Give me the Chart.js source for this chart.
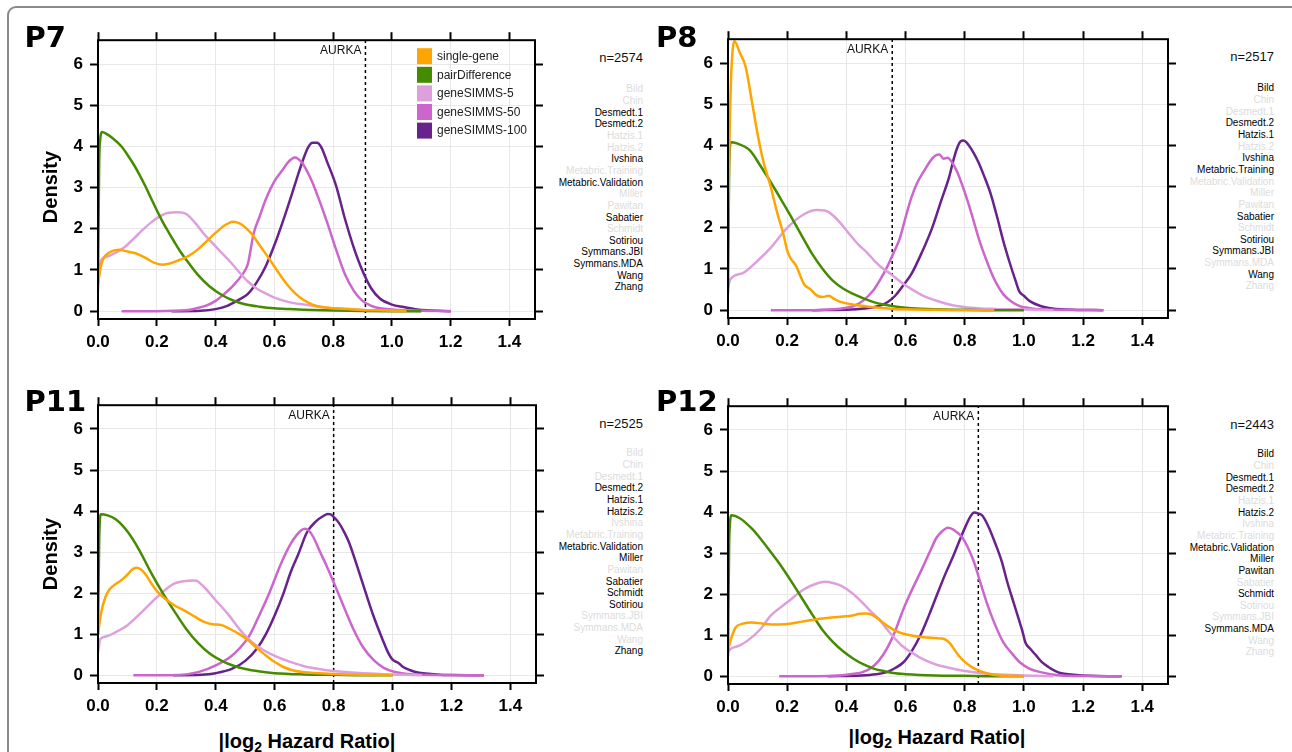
<!DOCTYPE html>
<html><head><meta charset="utf-8">
<script src="https://cdn.jsdelivr.net/npm/chart.js@4.4.1/dist/chart.umd.min.js"></script>
<style>
html,body{margin:0;padding:0;background:#fff}
body{width:1292px;height:752px;overflow:hidden;position:relative;font-family:"Liberation Sans",Arial,sans-serif}
.frame{position:absolute;left:7px;top:6px;width:1320px;height:800px;border:2px solid #8a8a8a;border-radius:9px}
canvas{position:absolute}
.ptitle{position:absolute;font:bold 29px/29px "DejaVu Sans",sans-serif;color:#000;white-space:nowrap}
.ylab{position:absolute;width:120px;text-align:center;font:bold 20px/20px "Liberation Sans",Arial,sans-serif;transform:rotate(-90deg);color:#000}
.xlab{position:absolute;width:300px;text-align:center;font:bold 20px/20px "Liberation Sans",Arial,sans-serif;color:#000;white-space:nowrap}
.xlab sub{font-size:14px;line-height:0;vertical-align:-4px}
.nlab{position:absolute;text-align:right;font:13px/13px "Liberation Sans",Arial,sans-serif;color:#111;white-space:nowrap}
.names{position:absolute;text-align:right;font:10px/11.65px "Liberation Sans",Arial,sans-serif;white-space:nowrap}
</style>
</head><body>
<div class="frame"></div>
<script>
// ---------------- data ----------------
const xTickValues = [0, 0.2, 0.4, 0.6, 0.8, 1.0, 1.2, 1.4];
const yTickValues = [0, 1, 2, 3, 4, 5, 6];
const xRange = [0, 1.487];
const yRange = [-0.19, 6.58];

const seriesNames = ["single-gene", "pairDifference", "geneSIMMS-5", "geneSIMMS-50", "geneSIMMS-100"];
const panelTitles = ["P7", "P8", "P11", "P12"];
const panelN = [2574, 2517, 2525, 2443];
const aurkaX = [0.910, 0.555, 0.800, 0.846];
const studyNames = ["Bild","Chin","Desmedt.1","Desmedt.2","Hatzis.1","Hatzis.2","Ivshina","Metabric.Training","Metabric.Validation","Miller","Pawitan","Sabatier","Schmidt","Sotiriou","Symmans.JBI","Symmans.MDA","Wang","Zhang"];
const P7_studies = ["Desmedt.1","Desmedt.2","Ivshina","Metabric.Validation","Sabatier","Sotiriou","Symmans.JBI","Symmans.MDA","Wang","Zhang"];
const P8_studies = ["Bild","Desmedt.2","Hatzis.1","Ivshina","Metabric.Training","Sabatier","Sotiriou","Symmans.JBI","Wang"];
const P11_studies = ["Desmedt.2","Hatzis.1","Hatzis.2","Metabric.Validation","Miller","Sabatier","Schmidt","Sotiriou","Zhang"];
const P12_studies = ["Bild","Desmedt.1","Desmedt.2","Hatzis.2","Metabric.Validation","Miller","Pawitan","Schmidt","Symmans.MDA"];

// P7 densities  [x, density]
const P7_singleGene = [[0,0.68],[0.01,1.1],[0.02,1.3],[0.04,1.43],[0.07,1.49],[0.1,1.45],[0.13,1.4],[0.16,1.3],[0.19,1.18],[0.22,1.13],[0.25,1.17],[0.28,1.25],[0.31,1.35],[0.34,1.5],[0.37,1.7],[0.4,1.9],[0.43,2.08],[0.445,2.14],[0.46,2.17],[0.475,2.15],[0.49,2.1],[0.52,1.9],[0.55,1.6],[0.58,1.3],[0.61,0.98],[0.64,0.68],[0.67,0.44],[0.7,0.27],[0.73,0.16],[0.76,0.1],[0.8,0.07],[0.85,0.05],[0.9,0.03],[0.95,0.02],[1.0,0.01],[1.05,0]];
const P7_pairDifference = [[0,0.7],[0.004,3.6],[0.008,4.2],[0.013,4.35],[0.03,4.3],[0.05,4.2],[0.08,4.0],[0.1,3.8],[0.12,3.58],[0.14,3.33],[0.16,3.05],[0.18,2.75],[0.2,2.45],[0.22,2.17],[0.24,1.92],[0.26,1.68],[0.28,1.45],[0.3,1.25],[0.34,0.88],[0.38,0.6],[0.42,0.4],[0.46,0.26],[0.5,0.17],[0.55,0.11],[0.6,0.07],[0.65,0.05],[0.7,0.035],[0.8,0.015],[0.9,0.005],[1.0,0],[1.1,0]];
const P7_geneSIMMS5 = [[0,0.5],[0.005,1.0],[0.012,1.25],[0.03,1.32],[0.06,1.42],[0.09,1.55],[0.12,1.75],[0.15,1.96],[0.18,2.15],[0.21,2.3],[0.24,2.39],[0.27,2.4],[0.3,2.36],[0.33,2.15],[0.36,1.88],[0.39,1.65],[0.42,1.42],[0.45,1.2],[0.48,0.95],[0.51,0.72],[0.54,0.55],[0.57,0.43],[0.6,0.33],[0.65,0.22],[0.7,0.16],[0.75,0.11],[0.8,0.07],[0.85,0.05],[0.9,0.03],[1.0,0.01],[1.1,0]];
const P7_geneSIMMS50 = [[0.08,0],[0.2,0],[0.3,0.02],[0.34,0.08],[0.37,0.14],[0.4,0.25],[0.43,0.42],[0.46,0.62],[0.49,0.88],[0.51,1.15],[0.53,1.9],[0.55,2.3],[0.57,2.7],[0.6,3.15],[0.63,3.45],[0.645,3.6],[0.66,3.7],[0.67,3.73],[0.68,3.7],[0.695,3.6],[0.71,3.42],[0.73,3.12],[0.75,2.75],[0.78,2.15],[0.81,1.5],[0.84,0.9],[0.87,0.5],[0.9,0.25],[0.93,0.13],[0.96,0.07],[1.0,0.04],[1.05,0.02],[1.1,0.01],[1.2,0]];
const P7_geneSIMMS100 = [[0.25,0],[0.35,0.01],[0.4,0.05],[0.44,0.13],[0.48,0.28],[0.51,0.42],[0.54,0.7],[0.57,1.08],[0.6,1.6],[0.63,2.2],[0.66,2.85],[0.68,3.3],[0.7,3.72],[0.715,3.98],[0.73,4.09],[0.745,4.09],[0.76,3.98],[0.78,3.62],[0.81,3.05],[0.84,2.25],[0.87,1.55],[0.9,0.98],[0.93,0.55],[0.96,0.3],[1.0,0.16],[1.04,0.1],[1.08,0.05],[1.12,0.02],[1.2,0]];

// P8
const P8_singleGene = [[0,2.0],[0.006,4.5],[0.012,5.9],[0.022,6.53],[0.04,6.25],[0.06,5.9],[0.08,5.1],[0.1,4.28],[0.12,3.6],[0.145,2.98],[0.165,2.4],[0.187,1.85],[0.2,1.45],[0.21,1.28],[0.23,1.08],[0.257,0.63],[0.28,0.5],[0.3,0.36],[0.32,0.32],[0.34,0.35],[0.36,0.27],[0.38,0.2],[0.42,0.14],[0.46,0.1],[0.5,0.065],[0.56,0.03],[0.6,0.02],[0.7,0.01],[0.8,0],[0.9,0]];
const P8_pairDifference = [[0,0.4],[0.004,3.5],[0.01,4.08],[0.03,4.05],[0.074,3.88],[0.11,3.5],[0.145,3.1],[0.18,2.68],[0.215,2.25],[0.25,1.8],[0.285,1.36],[0.32,1.0],[0.355,0.71],[0.39,0.52],[0.425,0.39],[0.46,0.28],[0.495,0.19],[0.53,0.13],[0.565,0.09],[0.6,0.06],[0.65,0.035],[0.7,0.02],[0.8,0.01],[0.9,0],[1.0,0]];
const P8_geneSIMMS5 = [[0,0.55],[0.008,0.75],[0.05,0.9],[0.1,1.2],[0.145,1.52],[0.2,2.0],[0.257,2.33],[0.3,2.43],[0.327,2.42],[0.355,2.3],[0.383,2.09],[0.41,1.85],[0.44,1.6],[0.47,1.4],[0.495,1.2],[0.52,1.03],[0.55,0.88],[0.585,0.68],[0.62,0.51],[0.66,0.35],[0.705,0.23],[0.76,0.12],[0.82,0.06],[0.9,0.03],[0.99,0.02],[1.1,0]];
const P8_geneSIMMS50 = [[0.145,0],[0.3,0],[0.36,0.02],[0.4,0.06],[0.425,0.1],[0.46,0.25],[0.49,0.47],[0.515,0.75],[0.537,1.04],[0.56,1.4],[0.58,1.73],[0.6,2.25],[0.62,2.74],[0.64,3.1],[0.663,3.39],[0.69,3.68],[0.705,3.77],[0.715,3.78],[0.728,3.68],[0.742,3.7],[0.758,3.58],[0.775,3.35],[0.79,3.07],[0.81,2.65],[0.83,2.17],[0.85,1.68],[0.874,1.2],[0.9,0.75],[0.93,0.39],[0.96,0.2],[0.986,0.1],[1.02,0.05],[1.056,0.02],[1.1,0.01],[1.27,0]];
const P8_geneSIMMS100 = [[0.285,0],[0.4,0.01],[0.46,0.04],[0.51,0.1],[0.54,0.2],[0.565,0.35],[0.59,0.58],[0.62,0.88],[0.655,1.4],[0.69,2.0],[0.72,2.65],[0.748,3.25],[0.762,3.65],[0.775,3.95],[0.786,4.1],[0.795,4.12],[0.805,4.08],[0.818,3.96],[0.83,3.82],[0.846,3.6],[0.866,3.25],[0.888,2.82],[0.91,2.25],[0.93,1.69],[0.95,1.2],[0.972,0.71],[0.985,0.45],[1.0,0.35],[1.02,0.22],[1.056,0.1],[1.09,0.05],[1.126,0.02],[1.2,0.005],[1.266,0]];

// P11
const P11_singleGene = [[0,1.0],[0.01,1.5],[0.025,1.9],[0.04,2.1],[0.06,2.22],[0.08,2.32],[0.1,2.45],[0.115,2.57],[0.13,2.62],[0.145,2.58],[0.16,2.47],[0.18,2.25],[0.2,2.05],[0.23,1.85],[0.26,1.7],[0.3,1.55],[0.33,1.42],[0.36,1.3],[0.39,1.24],[0.42,1.22],[0.45,1.12],[0.48,1.0],[0.51,0.85],[0.54,0.66],[0.57,0.48],[0.6,0.32],[0.63,0.2],[0.66,0.12],[0.7,0.07],[0.75,0.05],[0.8,0.03],[0.9,0.01],[1.0,0]];
const P11_pairDifference = [[0,1.0],[0.004,3.3],[0.01,3.92],[0.03,3.9],[0.06,3.8],[0.1,3.5],[0.14,3.05],[0.18,2.5],[0.22,2.0],[0.26,1.55],[0.3,1.12],[0.34,0.78],[0.38,0.52],[0.42,0.35],[0.46,0.23],[0.5,0.15],[0.55,0.09],[0.6,0.05],[0.7,0.02],[0.8,0.01],[0.9,0],[1.0,0]];
const P11_geneSIMMS5 = [[0,0.55],[0.008,0.88],[0.03,0.95],[0.06,1.05],[0.1,1.22],[0.15,1.55],[0.2,1.9],[0.258,2.23],[0.29,2.29],[0.33,2.31],[0.36,2.15],[0.4,1.82],[0.44,1.5],[0.485,1.08],[0.52,0.82],[0.56,0.62],[0.6,0.47],[0.65,0.33],[0.7,0.22],[0.75,0.15],[0.8,0.1],[0.9,0.05],[1.0,0.02],[1.1,0]];
const P11_geneSIMMS50 = [[0.12,0],[0.25,0],[0.3,0.02],[0.343,0.08],[0.4,0.24],[0.45,0.45],[0.48,0.65],[0.513,0.95],[0.55,1.5],[0.583,2.03],[0.62,2.7],[0.654,3.2],[0.675,3.42],[0.69,3.53],[0.703,3.57],[0.715,3.53],[0.73,3.38],[0.753,3.02],[0.775,2.68],[0.795,2.35],[0.83,1.75],[0.866,1.14],[0.9,0.68],[0.937,0.36],[0.97,0.18],[1.008,0.08],[1.05,0.03],[1.1,0.01],[1.31,0]];
const P11_geneSIMMS100 = [[0.255,0],[0.35,0.01],[0.4,0.05],[0.456,0.16],[0.5,0.35],[0.54,0.65],[0.57,1.0],[0.6,1.46],[0.63,2.0],[0.654,2.51],[0.68,2.95],[0.71,3.49],[0.74,3.75],[0.765,3.88],[0.78,3.93],[0.79,3.92],[0.8,3.86],[0.816,3.73],[0.835,3.5],[0.852,3.24],[0.88,2.65],[0.908,2.03],[0.935,1.45],[0.965,0.89],[0.985,0.55],[1.0,0.38],[1.02,0.3],[1.036,0.2],[1.06,0.12],[1.078,0.08],[1.15,0.02],[1.2,0.005],[1.31,0]];

// P12
const P12_singleGene = [[0,0.65],[0.01,0.9],[0.025,1.18],[0.05,1.28],[0.08,1.31],[0.12,1.28],[0.16,1.26],[0.2,1.27],[0.25,1.33],[0.3,1.39],[0.35,1.43],[0.4,1.46],[0.42,1.48],[0.445,1.52],[0.467,1.53],[0.485,1.5],[0.5,1.44],[0.52,1.33],[0.54,1.22],[0.565,1.11],[0.59,1.04],[0.62,0.99],[0.66,0.95],[0.7,0.93],[0.72,0.92],[0.735,0.89],[0.75,0.8],[0.765,0.65],[0.78,0.5],[0.8,0.35],[0.82,0.24],[0.846,0.14],[0.88,0.06],[0.916,0.02],[0.96,0.01],[1.0,0]];
const P12_pairDifference = [[0,0.5],[0.004,3.3],[0.012,3.92],[0.04,3.85],[0.08,3.6],[0.11,3.35],[0.145,3.02],[0.18,2.68],[0.215,2.3],[0.25,1.9],[0.285,1.5],[0.32,1.12],[0.355,0.83],[0.39,0.6],[0.425,0.42],[0.46,0.28],[0.495,0.18],[0.53,0.12],[0.565,0.07],[0.6,0.05],[0.7,0.02],[0.8,0.01],[0.9,0],[1.0,0]];
const P12_geneSIMMS5 = [[0,0.6],[0.01,0.67],[0.04,0.75],[0.074,0.91],[0.11,1.15],[0.145,1.48],[0.2,1.8],[0.257,2.12],[0.3,2.26],[0.327,2.3],[0.355,2.27],[0.383,2.2],[0.42,2.02],[0.453,1.8],[0.48,1.6],[0.51,1.39],[0.54,1.12],[0.565,0.91],[0.59,0.73],[0.62,0.58],[0.66,0.41],[0.705,0.28],[0.75,0.2],[0.79,0.14],[0.85,0.08],[0.9,0.05],[1.0,0.02],[1.1,0]];
const P12_geneSIMMS50 = [[0.173,0],[0.3,0],[0.38,0.02],[0.425,0.06],[0.455,0.1],[0.48,0.18],[0.51,0.38],[0.537,0.67],[0.565,1.1],[0.593,1.64],[0.62,2.08],[0.65,2.53],[0.68,3.0],[0.705,3.38],[0.725,3.54],[0.743,3.62],[0.76,3.58],[0.775,3.5],[0.79,3.4],[0.81,3.15],[0.832,2.77],[0.85,2.35],[0.874,1.8],[0.9,1.3],[0.93,0.83],[0.96,0.55],[0.986,0.34],[1.02,0.18],[1.056,0.1],[1.09,0.05],[1.126,0.02],[1.2,0.005],[1.33,0]];
const P12_geneSIMMS100 = [[0.337,0],[0.45,0.02],[0.5,0.05],[0.537,0.1],[0.565,0.2],[0.593,0.34],[0.62,0.6],[0.65,0.99],[0.68,1.5],[0.705,1.96],[0.735,2.5],[0.762,2.94],[0.785,3.35],[0.804,3.67],[0.82,3.9],[0.832,3.99],[0.845,3.97],[0.86,3.91],[0.88,3.65],[0.902,3.26],[0.925,2.8],[0.944,2.29],[0.965,1.8],[0.986,1.31],[0.995,1.1],[1.005,0.82],[1.02,0.68],[1.042,0.5],[1.06,0.35],[1.084,0.22],[1.105,0.13],[1.126,0.07],[1.16,0.04],[1.197,0.02],[1.25,0.005],[1.33,0]];

// ---------------- styles / layout ----------------
const seriesColors = ["#FFA500", "#458B00", "#DDA0DD", "#CC66CC", "#68228B"];
const panelSeries = [
  [P7_singleGene, P7_pairDifference, P7_geneSIMMS5, P7_geneSIMMS50, P7_geneSIMMS100],
  [P8_singleGene, P8_pairDifference, P8_geneSIMMS5, P8_geneSIMMS50, P8_geneSIMMS100],
  [P11_singleGene, P11_pairDifference, P11_geneSIMMS5, P11_geneSIMMS50, P11_geneSIMMS100],
  [P12_singleGene, P12_pairDifference, P12_geneSIMMS5, P12_geneSIMMS50, P12_geneSIMMS100]
];
const panelStudies = [P7_studies, P8_studies, P11_studies, P12_studies];
// plot boxes (left, top, right, bottom) in page pixels
const boxes = [
  {L:98, T:39, R:535, B:319},
  {L:728, T:38, R:1168, B:318},
  {L:98, T:404, R:536, B:683},
  {L:728, T:405, R:1168, B:684}
];
const titlePos = [{x:24.5, b:47}, {x:656, b:47}, {x:24.5, b:411}, {x:656, b:411}];
const listPos = [{r:643, n:57, first:89}, {r:1274, n:56, first:88}, {r:643, n:423, first:453}, {r:1274, n:424, first:454}];

const AX_L = 50, AX_T = 16, AX_R = 12, AX_B = 36;
const FONT = '"Liberation Sans", Arial, sans-serif';

const boxPlugin = {
  id: 'boxdeco',
  afterDraw(chart, args, opts) {
    const {ctx, chartArea: a, scales} = chart;
    ctx.save();
    const xp = scales.x.getPixelForValue(opts.aurka);
    ctx.font = '12px ' + FONT;
    ctx.fillStyle = '#111';
    ctx.textAlign = 'right';
    ctx.textBaseline = 'middle';
    ctx.fillText('AURKA', xp - 4, a.top + 10);
    ctx.strokeStyle = '#000';
    ctx.lineWidth = 2;
    ctx.strokeRect(a.left, a.top, a.right - a.left, a.bottom - a.top);
    if (opts.legend) {
      const lx = a.left + 319, ly = a.top + 16, step = 18.6;
      chart.data.datasets.forEach((ds, i) => {
        if (ds.isRef) return;
        const cy = ly + i * step;
        ctx.fillStyle = ds.borderColor;
        ctx.fillRect(lx, cy - 8, 15, 16);
        ctx.fillStyle = '#222';
        ctx.textAlign = 'left';
        ctx.font = '12px ' + FONT;
        ctx.fillText(ds.label, lx + 20, cy + 0.5);
      });
    }
    ctx.restore();
  }
};

function tickSetter(vals) { return s => { s.ticks = vals.map(v => ({value: v})); }; }

panelTitles.forEach((title, p) => {
  const b = boxes[p];
  const cv = document.createElement('canvas');
  const cw = (b.R - b.L) + AX_L + AX_R, ch = (b.B - b.T) + AX_T + AX_B;
  cv.width = cw; cv.height = ch;
  cv.style.left = (b.L - AX_L) + 'px';
  cv.style.top = (b.T - AX_T) + 'px';
  cv.style.width = cw + 'px'; cv.style.height = ch + 'px';
  document.body.appendChild(cv);

  const datasets = panelSeries[p].map((arr, i) => ({
    label: seriesNames[i],
    data: arr.map(([x, y]) => ({x, y})),
    borderColor: seriesColors[i],
    backgroundColor: seriesColors[i],
    borderWidth: 2.5,
    pointRadius: 0,
    fill: false,
    cubicInterpolationMode: 'monotone'
  }));
  datasets.push({
    label: 'AURKA', isRef: true,
    data: [{x: aurkaX[p], y: yRange[0]}, {x: aurkaX[p], y: yRange[1]}],
    borderColor: '#000', borderWidth: 1.5, borderDash: [3, 3], pointRadius: 0, fill: false
  });

  const tickFont = {family: FONT, size: 17, weight: 'bold'};
  new Chart(cv, {
    type: 'line',
    data: {datasets},
    options: {
      responsive: false, animation: false, devicePixelRatio: 1,
      layout: {padding: 0},
      plugins: {legend: {display: false}, tooltip: {enabled: false},
        boxdeco: {aurka: aurkaX[p], legend: p === 0}},
      scales: {
        x: {type: 'linear', position: 'bottom', min: xRange[0], max: xRange[1],
          afterBuildTicks: tickSetter(xTickValues), afterFit: s => { s.height = AX_B; },
          grid: {color: '#e8e8e8', lineWidth: 1, tickColor: '#000', tickWidth: 2, tickLength: 7},
          border: {display: false},
          ticks: {font: tickFont, color: '#000', padding: 6, maxRotation: 0, autoSkip: false,
            callback: v => Number(v).toFixed(1)}},
        x2: {type: 'linear', position: 'top', min: xRange[0], max: xRange[1],
          afterBuildTicks: tickSetter(xTickValues), afterFit: s => { s.height = AX_T; },
          grid: {drawOnChartArea: false, tickColor: '#000', tickWidth: 2, tickLength: 8},
          border: {display: false}, ticks: {display: false}},
        y: {type: 'linear', position: 'left', min: yRange[0], max: yRange[1],
          afterBuildTicks: tickSetter(yTickValues), afterFit: s => { s.width = AX_L; },
          grid: {color: '#e8e8e8', lineWidth: 1, tickColor: '#000', tickWidth: 2, tickLength: 8},
          border: {display: false},
          ticks: {font: tickFont, color: '#000', padding: 7, callback: v => String(v)}},
        y2: {type: 'linear', position: 'right', min: yRange[0], max: yRange[1],
          afterBuildTicks: tickSetter(yTickValues), afterFit: s => { s.width = AX_R; },
          grid: {drawOnChartArea: false, tickColor: '#000', tickWidth: 2, tickLength: 8},
          border: {display: false}, ticks: {display: false}}
      }
    },
    plugins: [boxPlugin]
  });

  const t = document.createElement('div');
  t.className = 'ptitle'; t.textContent = title;
  t.style.left = titlePos[p].x + 'px'; t.style.top = (titlePos[p].b - 24.5) + 'px';
  document.body.appendChild(t);

  const lp = listPos[p];
  const n = document.createElement('div');
  n.className = 'nlab'; n.textContent = 'n=' + panelN[p];
  n.style.right = (1292 - lp.r) + 'px'; n.style.top = (lp.n - 6.3) + 'px';
  document.body.appendChild(n);
  const list = document.createElement('div');
  list.className = 'names';
  list.style.right = (1292 - lp.r) + 'px'; list.style.top = (lp.first - 5.7) + 'px';
  studyNames.forEach(nm => {
    const d = document.createElement('div');
    d.textContent = nm;
    d.style.color = panelStudies[p].includes(nm) ? '#000' : '#dcdcdc';
    list.appendChild(d);
  });
  document.body.appendChild(list);
});

[{cx:50, cy:187}, {cx:50, cy:554}].forEach(pos => {
  const d = document.createElement('div');
  d.className = 'ylab'; d.textContent = 'Density';
  d.style.left = (pos.cx - 60) + 'px'; d.style.top = (pos.cy - 10) + 'px';
  document.body.appendChild(d);
});
[{cx:307, b:748}, {cx:937, b:744}].forEach(pos => {
  const d = document.createElement('div');
  d.className = 'xlab';
  d.innerHTML = '|log<sub>2</sub> Hazard Ratio|';
  d.style.left = (pos.cx - 150) + 'px'; d.style.top = (pos.b - 17) + 'px';
  document.body.appendChild(d);
});
</script>
</body></html>
